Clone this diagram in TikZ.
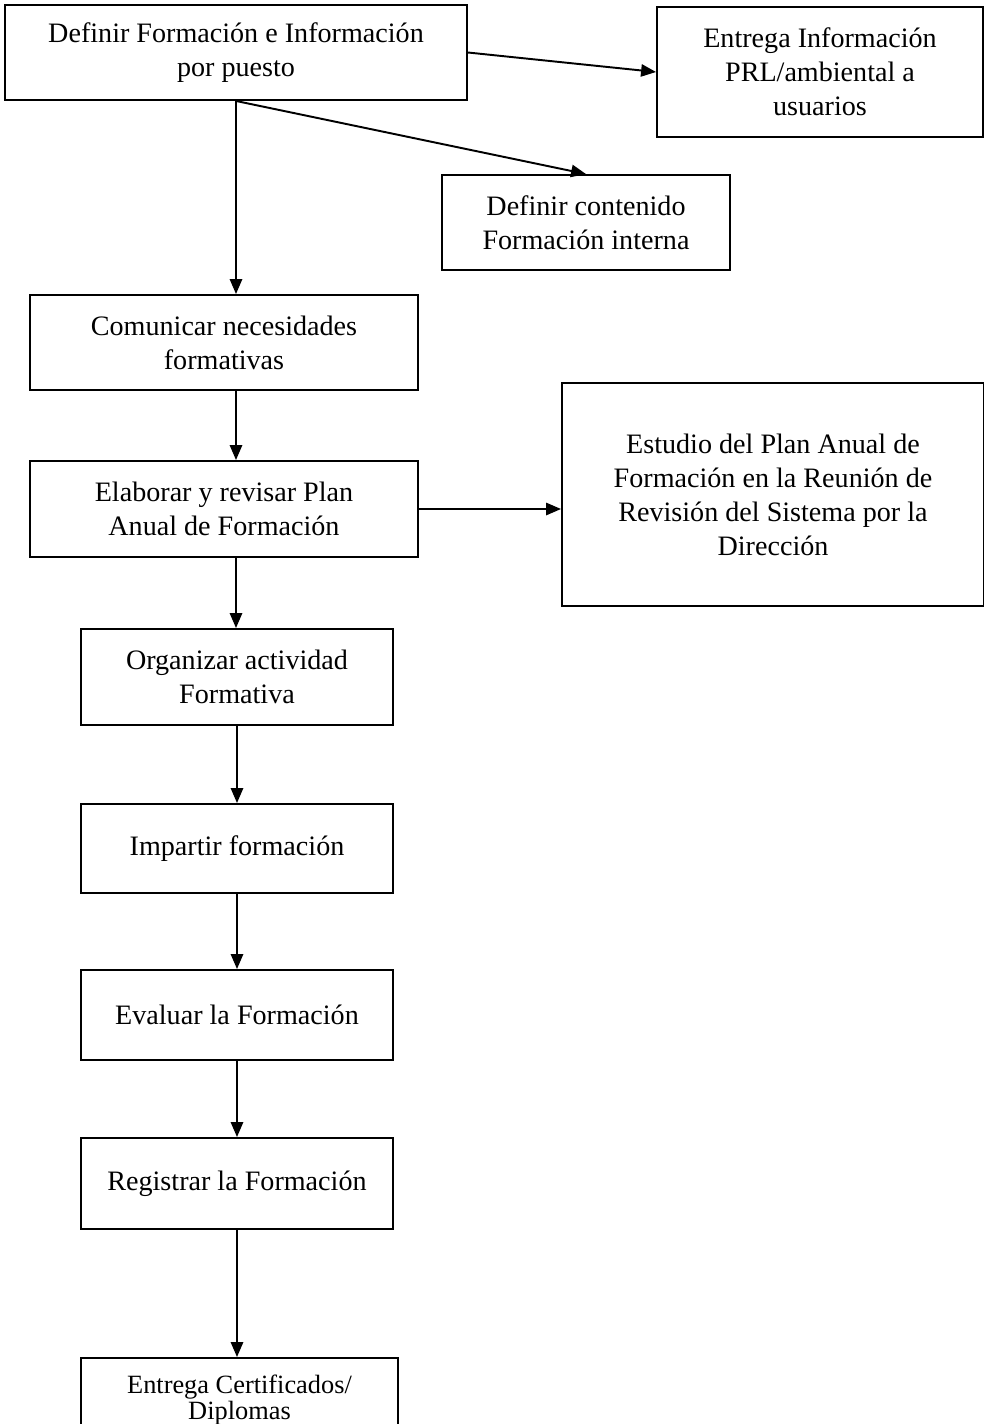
\documentclass[tikz,border=0pt]{standalone}
\usepackage{fontspec}
\setmainfont{Liberation Serif}
\usepackage{tikz}
\usetikzlibrary{arrows.meta, positioning}

\begin{document}
\begin{tikzpicture}[
  box/.style={draw=black, line width=1.1pt, fill=white, align=center, inner sep=2pt, font=\fontsize{16}{19.3}\selectfont},
  arr/.style={-{Triangle[length=8.5pt, width=7pt]}, black, line width=1.1pt}]
\useasboundingbox (0, 0) rectangle (19.68, -28.48);
\node[box, minimum width=9.24cm, minimum height=1.9cm] (c1) at (4.72, -1.05) {Definir Formación e Información\\ por puesto};
\node[box, minimum width=6.52cm, minimum height=2.6cm] (c2) at (16.4, -1.44) {Entrega Información\\ PRL/ambiental a\\ usuarios};
\node[box, minimum width=5.76cm, minimum height=1.9cm] (c3) at (11.72, -4.45) {Definir contenido\\ Formación interna};
\node[box, minimum width=7.76cm, minimum height=1.9cm] (c4) at (4.48, -6.85) {Comunicar necesidades\\ formativas};
\node[box, minimum width=7.76cm, minimum height=1.92cm] (c5) at (4.48, -10.18) {Elaborar y revisar Plan\\ Anual de Formación};
\node[box, minimum width=8.44cm, minimum height=4.46cm] (c6) at (15.46, -9.89) {Estudio del Plan Anual de\\ Formación en la Reunión de\\ Revisión del Sistema por la\\ Dirección};
\node[box, minimum width=6.24cm, minimum height=1.92cm] (c7) at (4.74, -13.54) {Organizar actividad\\ Formativa};
\node[box, minimum width=6.24cm, minimum height=1.78cm] (c8) at (4.74, -16.97) {Impartir formación};
\node[box, minimum width=6.24cm, minimum height=1.8cm] (c9) at (4.74, -20.3) {Evaluar la Formación};
\node[box, minimum width=6.24cm, minimum height=1.82cm] (c10) at (4.74, -23.67) {Registrar la Formación};
\node[box, minimum width=6.34cm, minimum height=1.68cm, font=\fontsize{15}{14.8}\selectfont] (c11) at (4.79, -28.0) {Entrega Certificados/\\ Diplomas};
\draw[arr] (c1.east) -- (c2.west); \draw[arr] (c1.south) -- (c3.north); \draw[arr] (c1.south) -- (c1.south |- c4.north);
\draw[arr] (c4.south -| c1.south) -- (c5.north -| c1.south); \draw[arr] (c5.east) -- (c5.east -| c6.west);
\draw[arr] (c5.south -| c1.south) -- (c7.north -| c1.south); \draw[arr] (c7) -- (c8); \draw[arr] (c8) -- (c9);
\draw[arr] (c9) -- (c10); \draw[arr] (c10.south) -- (c10.south |- c11.north);
\end{tikzpicture}
\end{document}
